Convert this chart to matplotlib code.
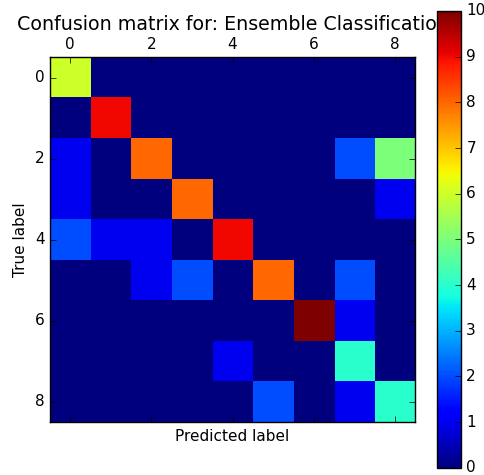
import matplotlib
matplotlib.use("Agg")
import matplotlib.pyplot as plt
import numpy as np

plt.style.use('classic')

labels = list(range(9))
row0 = [6, 0, 0, 0, 0, 0, 0, 0, 0]
row1 = [0, 9, 0, 0, 0, 0, 0, 0, 0]
row2 = [1, 0, 8, 0, 0, 0, 0, 2, 5]
row3 = [1, 0, 0, 8, 0, 0, 0, 0, 1]
row4 = [2, 1, 1, 0, 9, 0, 0, 0, 0]
row5 = [0, 0, 1, 2, 0, 8, 0, 2, 0]
row6 = [0, 0, 0, 0, 0, 0, 10, 1, 0]
row7 = [0, 0, 0, 0, 1, 0, 0, 4, 0]
row8 = [0, 0, 0, 0, 0, 2, 0, 1, 4]
cm = np.array([row0, row1, row2, row3, row4, row5, row6, row7, row8])

fig = plt.figure(figsize=(4.85, 4.75), dpi=100, facecolor='white')
ax = fig.add_axes([0.103, 0.112, 0.753, 0.767])
im = ax.matshow(cm, cmap='jet', vmin=0, vmax=10, interpolation='nearest', aspect='auto')
ax.set_title('Confusion matrix for: Ensemble Classification', fontsize=13.7, y=1.055)
ax.set_xlabel('Predicted label', fontsize=11)
ax.set_ylabel('True label', fontsize=11)
ax.set_xticks([0, 2, 4, 6, 8])
ax.set_yticks([0, 2, 4, 6, 8])
ax.tick_params(labelsize=11)
cax = fig.add_axes([0.901, 0.015, 0.049, 0.962])
cb = fig.colorbar(im, cax=cax)
cb.set_ticks(range(0, 11))
cax.tick_params(labelsize=11)
fig.savefig('out.png', dpi=100, facecolor='white')
